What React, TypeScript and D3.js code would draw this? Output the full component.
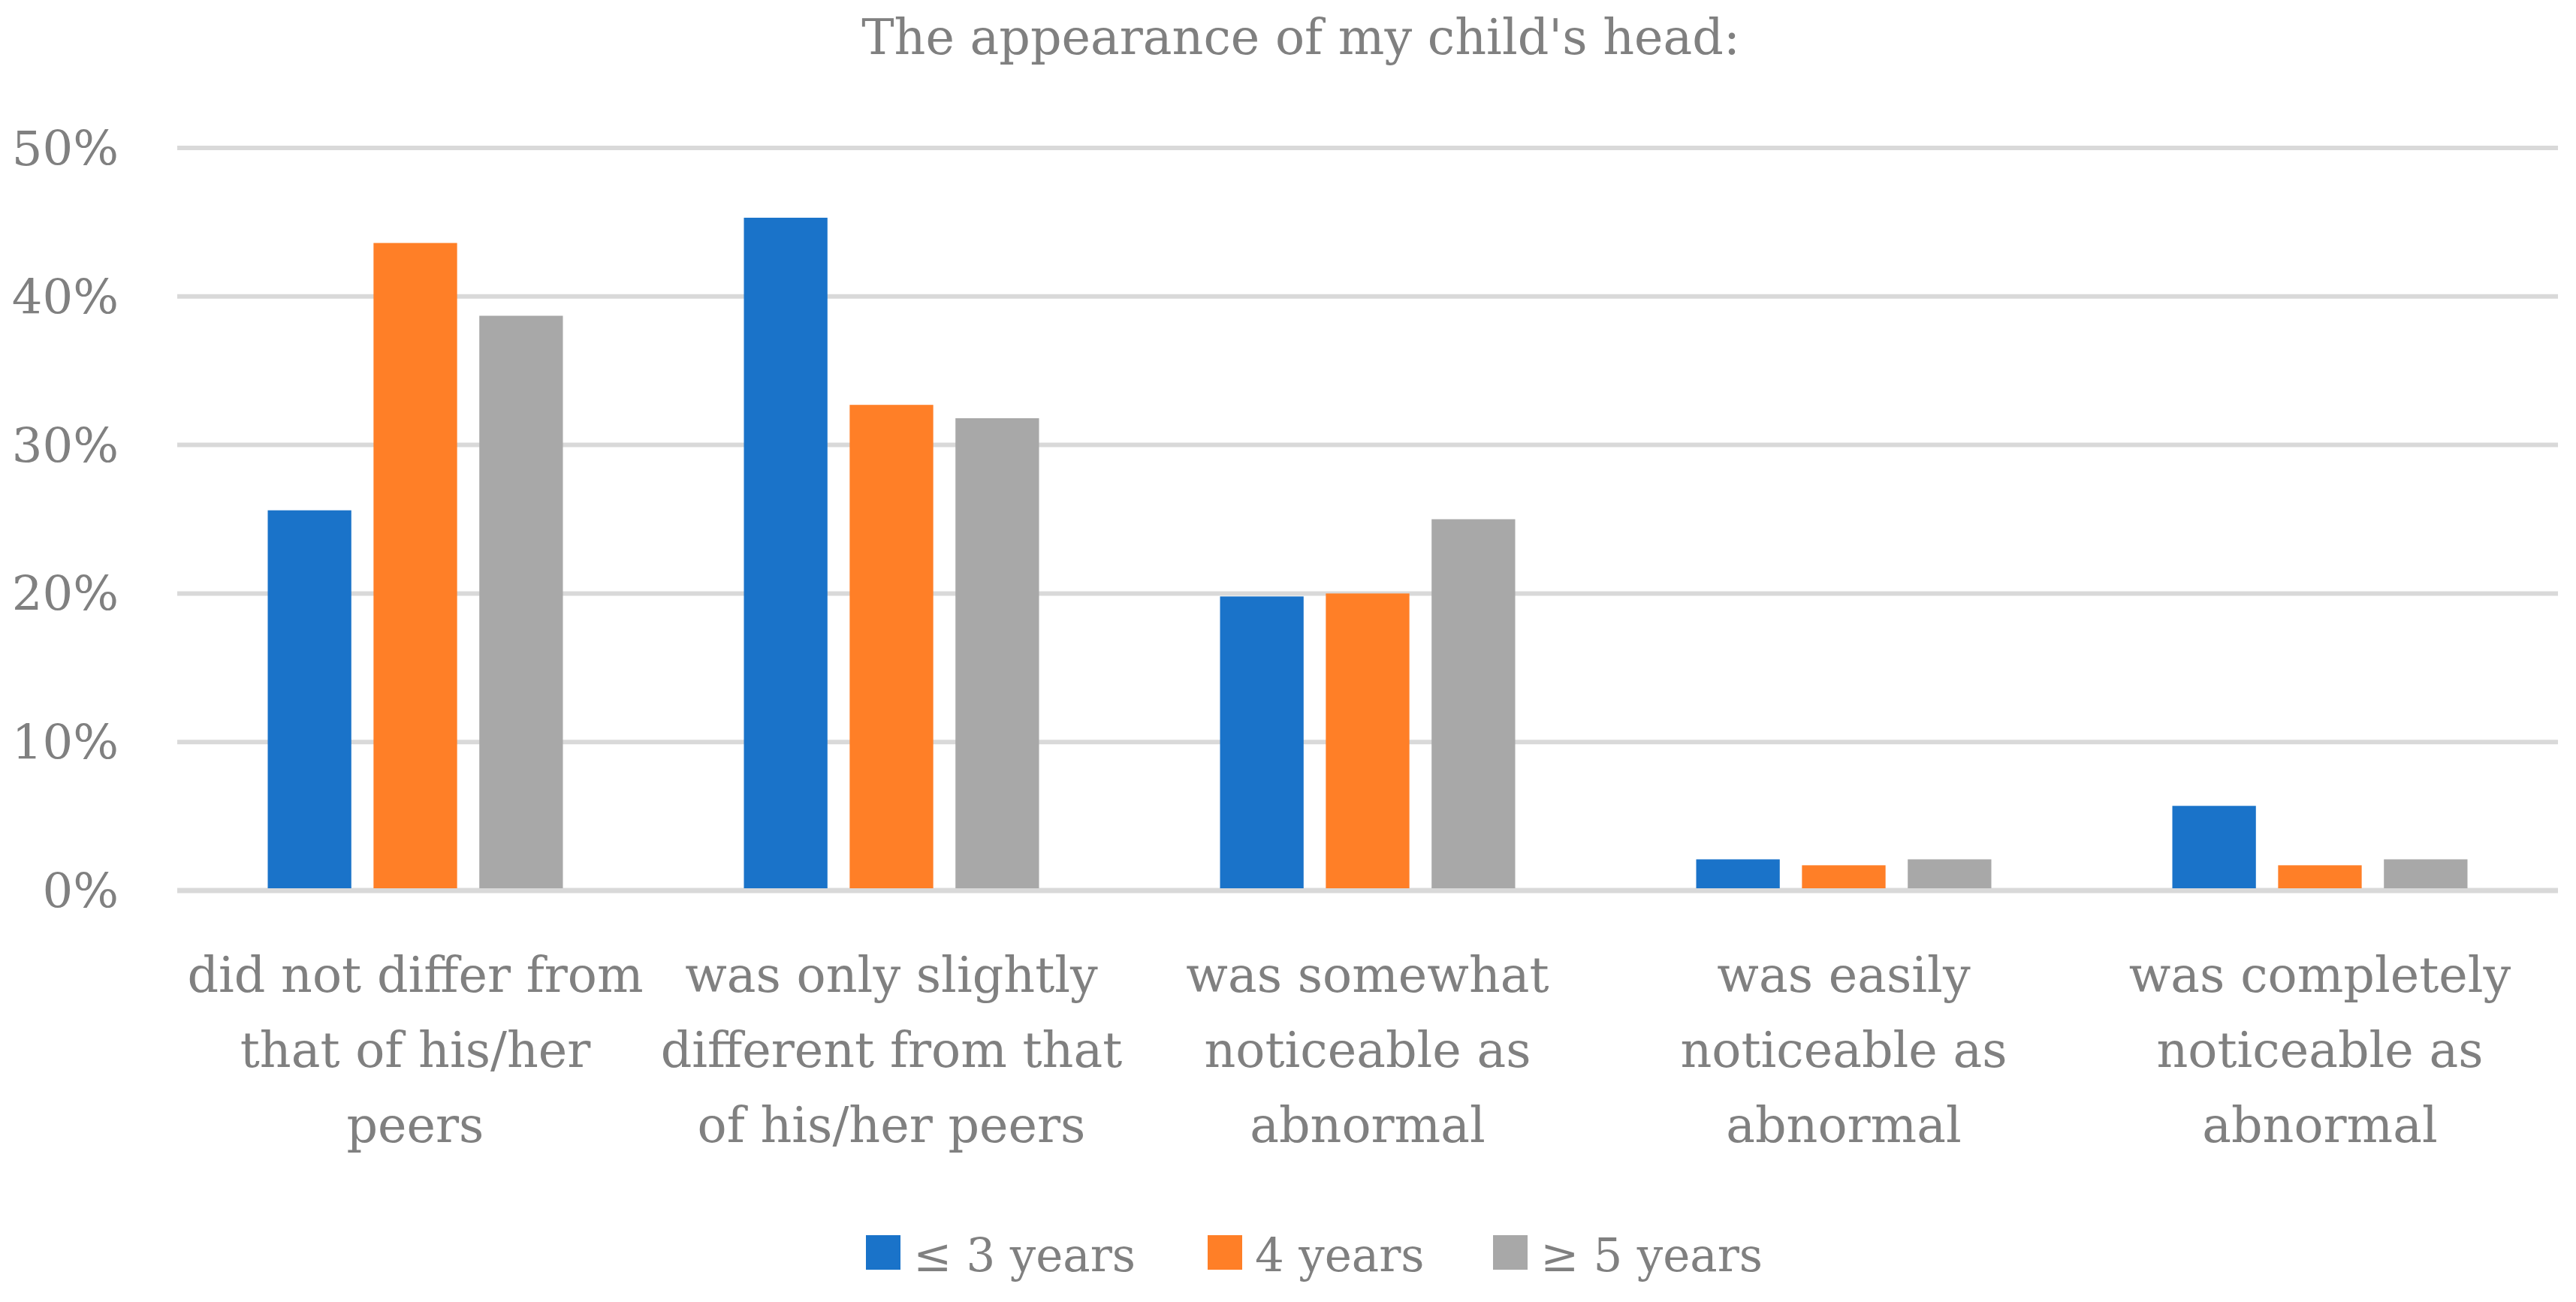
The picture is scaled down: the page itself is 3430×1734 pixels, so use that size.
import * as React from 'react';
import * as d3 from 'd3';

// chart data
const categories = ['c1', 'c2', 'c3', 'c4', 'c5'];
const categoryLines = [
    ['did not differ from', 'that of his/her', 'peers'],
    ['was only slightly', 'different from that', 'of his/her peers'],
    ['was somewhat', 'noticeable as', 'abnormal'],
    ['was easily', 'noticeable as', 'abnormal'],
    ['was completely', 'noticeable as', 'abnormal'],
];
const seriesNames = ['≤ 3 years', '4 years', '≥ 5 years'];
const upTo3 = [25.6, 45.3, 19.8, 2.1, 5.7];
const age4 = [43.6, 32.7, 20.0, 1.7, 1.7];
const from5 = [38.7, 31.8, 25.0, 2.1, 2.1];
const yTicks = [0, 10, 20, 30, 40, 50];
const title = "The appearance of my child's head:";

const seriesValues = [upTo3, age4, from5];
const colors = ['#1A73C9', '#FF7F27', '#A8A8A8'];

const WIDTH = 3430;
const HEIGHT = 1734;
const MARGINS = { top: 197, right: 24, bottom: 548, left: 236 };
const FONT = '"DejaVu Serif", serif';
const TEXT = '#808080';

export default function App() {
    const x0 = d3.scaleBand<string>()
        .domain(categories)
        .range([MARGINS.left, WIDTH - MARGINS.right]);
    const x1 = d3.scaleBand<string>()
        .domain(seriesNames)
        .range([120.5, x0.bandwidth() - 120.5])
        .paddingInner(0.21);
    const y = d3.scaleLinear()
        .domain([0, 50])
        .range([HEIGHT - MARGINS.bottom, MARGINS.top]);

    // legend layout
    const legendX = [1153, 1608, 1988];

    return (
        <div style={{ position: 'absolute', left: 0, top: 0 }}>
            <svg width={WIDTH} height={HEIGHT} style={{ display: 'block', background: '#fff' }}>
                <text x={1732} y={72} textAnchor="middle" fontFamily={FONT} fontSize={65} fill={TEXT}>
                    {title}
                </text>

                {yTicks.map((t) => (
                    <g key={t}>
                        <line x1={MARGINS.left} x2={WIDTH - MARGINS.right} y1={y(t)} y2={y(t)}
                            stroke="#D9D9D9" strokeWidth={t === 0 ? 7 : 6} />
                        <text x={158} y={y(t) + 23} textAnchor="end" fontFamily={FONT} fontSize={64} fill={TEXT}>
                            {t + '%'}
                        </text>
                    </g>
                ))}

                {categories.map((c, i) => (
                    <g key={c} transform={'translate(' + x0(c) + ',0)'}>
                        {seriesNames.map((s, j) => (
                            <rect key={s} x={x1(s)} width={x1.bandwidth()}
                                y={y(seriesValues[j][i])}
                                height={y(0) - 3 - y(seriesValues[j][i])}
                                fill={colors[j]} />
                        ))}
                        {categoryLines[i].map((line, k) => (
                            <text key={k} x={x0.bandwidth() / 2} y={1321 + k * 100}
                                textAnchor="middle" fontFamily={FONT} fontSize={65} fill={TEXT}>
                                {line}
                            </text>
                        ))}
                    </g>
                ))}

                {seriesNames.map((s, j) => (
                    <g key={s}>
                        <rect x={legendX[j]} y={1645} width={46} height={46} fill={colors[j]} />
                        <text x={legendX[j] + 63} y={1693} fontFamily={FONT} fontSize={61} fill={TEXT}>
                            {s}
                        </text>
                    </g>
                ))}
            </svg>
        </div>
    );
}
